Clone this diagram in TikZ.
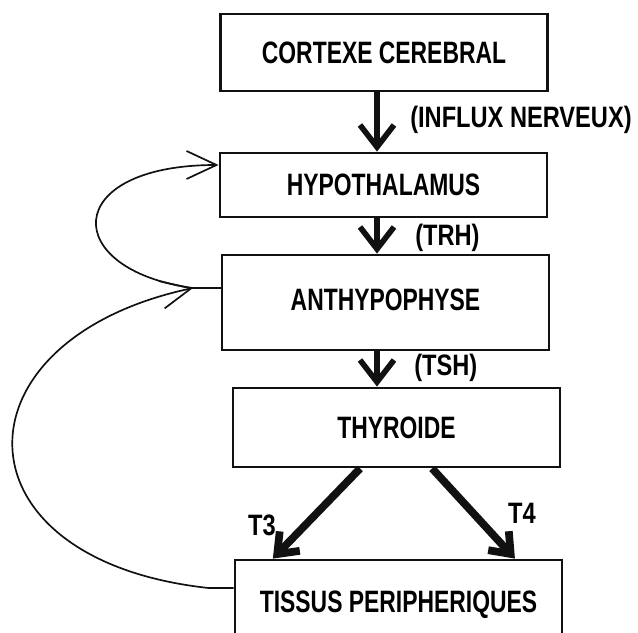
\documentclass[tikz,border=0pt]{standalone}
\usepackage{fontspec}
\setmainfont{Liberation Sans}[FakeStretch=0.74]
\newfontfamily\lblfont{Liberation Sans}[FakeStretch=0.8]
\usetikzlibrary{arrows.meta}
\definecolor{vink}{HTML}{111111}

\tikzset{
	organ/.style={draw=vink, line width=2pt, minimum width=8.175cm, inner sep=0pt, font=\bfseries\fontsize{22}{26}\selectfont},
	lbl/.style={inner sep=0pt, font=\lblfont\bfseries\fontsize{21}{24}\selectfont},
	hormone/.style={color=vink, line width=4pt, -{Straight Barb[length=0.55cm,width=0.85cm]}},
	tsecr/.style={color=vink, line width=5.5pt, -{Straight Barb[length=0.45cm,width=0.7cm]}},
	retro/.style={color=vink, line width=1.2pt, -{Straight Barb[length=0.75cm,width=0.7cm]}}
}

\begin{document}
\begin{tikzpicture}[x=0.025cm, y=-0.025cm]
		\useasboundingbox (0,0) rectangle (638,632);
		\clip (0,0) rectangle (638,632);
		\node[organ, minimum height=1.925cm] (cortex) at (384,52.5) {CORTEXE CEREBRAL};
		\node[organ, minimum height=1.6cm] (hypo) at (383.5,185) {HYPOTHALAMUS};
		\node[organ, minimum height=2.375cm] (anthy) at (385.5,302.5) {\raisebox{0.15cm}{ANTHYPOPHYSE}};
		\node[organ, minimum height=1.975cm] (thyr) at (396.5,427.5) {THYROIDE};
		\node[organ, minimum height=2.25cm] (tissus) at (398.5,605) {TISSUS PERIPHERIQUES};
		\coordinate (axis) at (377,0);
		\draw[hormone] (axis |- cortex.south) -- (axis |- hypo.north);
		\draw[hormone] (axis |- hypo.south) -- (axis |- anthy.north);
		\draw[hormone] (axis |- anthy.south) -- (axis |- thyr.north);
		\node[lbl, anchor=west] (influx) at (410,120) {(INFLUX NERVEUX)};
		\node[lbl, anchor=west] (trh) at (415,238) {(TRH)};
		\node[lbl, anchor=west] (tsh) at (414,368) {(TSH)};
		\draw[tsecr] ([xshift=-0.91cm]thyr.south) -- ([xshift=-3.14cm]tissus.north);
		\draw[tsecr] ([xshift=0.89cm]thyr.south) -- ([xshift=2.91cm]tissus.north);
		\node[lbl] (t3) at (262,525) {T3};
		\node[lbl] (t4) at (522,513) {T4};
		\coordinate (stub) at (193,288);
		\draw[color=vink, line width=2pt] (anthy.west |- stub) -- (stub);
		\draw[retro] ([yshift=0.425cm]tissus.west) -- ++(-25,0) .. controls (-50,560) and (-50,340) .. (stub);
		\draw[retro] (stub) .. controls (60,270) and (60,165) .. ([yshift=0.5cm]hypo.west);
	\end{tikzpicture}
\end{document}
